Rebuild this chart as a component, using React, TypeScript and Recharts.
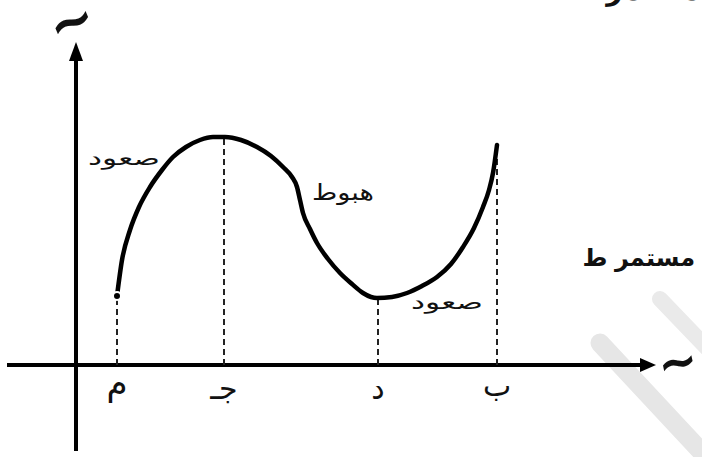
import React from 'react';
import { ComposedChart, Line, XAxis, YAxis, ReferenceLine, ReferenceDot } from 'recharts';

// Curve f(x) traced on the sketch (x, y in graph units; origin = axes crossing)
const curveX = [41, 46, 54, 63, 74, 86, 97, 110, 124, 137, 149, 165, 181, 195, 207, 216, 221, 224, 227, 234, 241, 252, 264, 276, 287, 295, 301, 316, 331, 346, 361, 375, 387, 398, 407, 413, 417, 421];
const curveY = [69, 105, 135, 158, 178, 195, 208, 218, 225, 228, 228, 225, 218, 209, 198, 188, 178, 165, 152, 136, 122, 106, 92, 81, 72, 68, 67, 68, 72, 79, 88, 101, 118, 137, 158, 175, 192, 220];

// Special x points on the x axis
const pointX = [41, 148, 302, 421];
const pointY = [69, 228, 67, 220];
const pointLabels = ['م', 'جـ', 'د', 'ب'];

// Trend words
const trendLabels = ['صعود', 'هبوط', 'صعود'];
const trendX = [84, 236, 335];
const trendY = [200, 165, 56];

// Axis extents
const xAxisFrom = -69;
const xAxisTo = 566;
const xAxisTip = 580;
const yAxisFrom = -86;
const yAxisTo = 304;
const yAxisTip = 323;

const curve = curveX.map((x, i) => ({ x, y: curveY[i] }));

const ARABIC = '"DejaVu Sans", "Noto Sans", sans-serif';

const makeText = (value: string, opts: any) => (p: any) => {
  const x = p.cx + (opts.dx || 0);
  const y = p.cy + (opts.dy || 0);
  const size = opts.size || 16;
  return (
    <text
      x={x}
      y={y}
      textAnchor={opts.anchor || 'middle'}
      fontFamily={ARABIC}
      fontSize={size}
      fontWeight={opts.weight || 'normal'}
      fill={opts.fill || '#111'}
      textLength={opts.len}
      lengthAdjust={opts.len ? 'spacingAndGlyphs' : undefined}
      transform={opts.rotate ? `rotate(${opts.rotate} ${x} ${y - size * 0.3})` : undefined}
    >
      {value}
    </text>
  );
};

const arrowRight = (p: any) => (
  <polygon points={`${p.cx - 16},${p.cy - 7} ${p.cx},${p.cy} ${p.cx - 16},${p.cy + 7}`} fill="#000" />
);
const arrowUp = (p: any) => (
  <polygon points={`${p.cx - 7},${p.cy + 19} ${p.cx},${p.cy} ${p.cx + 7},${p.cy + 19}`} fill="#000" />
);

export default function App() {
  return (
    <div style={{ position: 'absolute', left: 0, top: 0, width: 702, height: 457, background: '#fff' }}>
      <ComposedChart width={702} height={457} margin={{ top: 0, right: 0, bottom: 0, left: 0 }}>
        <XAxis type="number" dataKey="x" domain={[-76, 626]} allowDataOverflow hide />
        <YAxis type="number" dataKey="y" domain={[-92, 365]} allowDataOverflow hide />

        {/* faint watermark strokes */}
        <ReferenceLine ifOverflow="visible" segment={[{ x: 524, y: 22 }, { x: 634, y: -96 }]} stroke="#e6e6e6" strokeWidth={19} strokeLinecap="round" />
        <ReferenceLine ifOverflow="visible" segment={[{ x: 584, y: 66 }, { x: 634, y: 14 }]} stroke="#eaeaea" strokeWidth={16} strokeLinecap="round" />

        {/* axes */}
        <ReferenceLine segment={[{ x: xAxisFrom, y: 0 }, { x: xAxisTo, y: 0 }]} stroke="#000" strokeWidth={4} />
        <ReferenceLine segment={[{ x: 0, y: yAxisFrom }, { x: 0, y: yAxisTo }]} stroke="#000" strokeWidth={4} />
        <ReferenceDot x={xAxisTip} y={0} r={0} shape={arrowRight} />
        <ReferenceDot x={0} y={yAxisTip} r={0} shape={arrowUp} />

        {/* dashed drop lines */}
        {pointX.map((x, i) => (
          <ReferenceLine key={`d${i}`} segment={[{ x, y: 0 }, { x, y: pointY[i] }]} stroke="#222" strokeWidth={2} strokeDasharray="6 4" />
        ))}

        <Line data={curve} dataKey="y" type="monotone" stroke="#000" strokeWidth={4.5} dot={false} isAnimationActive={false} strokeLinecap="round" />

        {/* point labels under x axis */}
        <ReferenceDot x={pointX[0]} y={0} r={0} shape={makeText(pointLabels[0], { dy: 30, size: 34 })} />
        <ReferenceDot x={pointX[1]} y={0} r={0} shape={makeText(pointLabels[1], { dy: 34, size: 30 })} />
        <ReferenceDot x={pointX[2]} y={0} r={0} shape={makeText(pointLabels[2], { dy: 34, size: 30 })} />
        <ReferenceDot x={pointX[3]} y={0} r={0} shape={makeText(pointLabels[3], { dy: 31, size: 30 })} />

        {/* trend labels */}
        <ReferenceDot x={trendX[0]} y={trendY[0]} r={0} shape={makeText(trendLabels[0], { anchor: 'end', size: 20, len: 72 })} />
        <ReferenceDot x={trendX[1]} y={trendY[1]} r={0} shape={makeText(trendLabels[1], { anchor: 'start', size: 22, len: 62 })} />
        <ReferenceDot x={trendX[2]} y={trendY[2]} r={0} shape={makeText(trendLabels[2], { anchor: 'start', size: 20, len: 72 })} />

        {/* axis names */}
        <ReferenceDot x={0} y={yAxisTip} r={0} shape={makeText('~', { dx: -4, dy: -2, size: 56, weight: 'bold', rotate: -22, len: 46 })} />
        <ReferenceDot x={xAxisTip} y={0} r={0} shape={makeText('~', { dx: 22, dy: 14, size: 50, weight: 'bold', rotate: -12, len: 40 })} />

        {/* fragments of surrounding page text */}
        <ReferenceDot x={577} y={365} r={0} shape={makeText('مستمر', { size: 28, weight: 'bold' })} />
        <ReferenceDot x={579} y={99} r={0} shape={makeText('مستمر', { size: 24, weight: 'bold' })} />
        <ReferenceDot x={519} y={99} r={0} shape={makeText('ط', { size: 24, weight: 'bold' })} />
      </ComposedChart>
    </div>
  );
}
